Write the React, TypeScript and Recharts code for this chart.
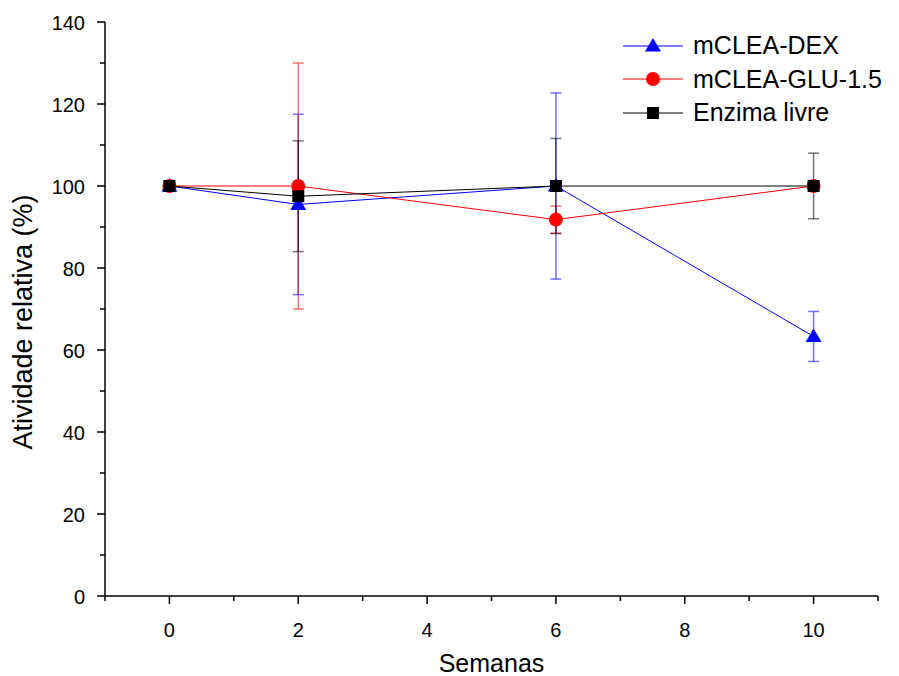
import { LineChart, Line, XAxis, YAxis, ErrorBar } from "recharts";

// semanas de armazenamento
const semanas = [0, 2, 6, 10];

// atividade relativa (%) e desvio
const dex = [100, 95.5, 100, 63.3];
const dexErro = [1, 22, 22.7, 6.1];
const glu = [100, 100, 91.8, 100];
const gluErro = [0.5, 30, 3.3, 0.8];
const livre = [100, 97.5, 100, 100];
const livreErro = [0.5, 13.5, 11.6, 8];

const xTicks = [-1, 0, 1, 2, 3, 4, 5, 6, 7, 8, 9, 10, 11];
const yTicks = [0, 10, 20, 30, 40, 50, 60, 70, 80, 90, 100, 110, 120, 130, 140];

const data = semanas.map((s, i) => ({
  semana: s,
  dex: dex[i],
  dexErro: dexErro[i],
  glu: glu[i],
  gluErro: gluErro[i],
  livre: livre[i],
  livreErro: livreErro[i],
}));

const FONT = '"Liberation Sans", Arial, sans-serif';

const Triangle = ({ cx, cy, fill }: any) => (
  <path d={`M${cx},${cy - 8} L${cx + 8},${cy + 5.5} L${cx - 8},${cy + 5.5} Z`} fill={fill} />
);
const Circle = ({ cx, cy, fill }: any) => <circle cx={cx} cy={cy} r={7} fill={fill} />;
const Square = ({ cx, cy, fill }: any) => (
  <rect x={cx - 6} y={cy - 6} width={12} height={12} fill={fill} />
);

const series = [
  { key: "dex", name: "mCLEA-DEX", color: "#0000ff", Marker: Triangle },
  { key: "glu", name: "mCLEA-GLU-1.5", color: "#ff0000", Marker: Circle },
  { key: "livre", name: "Enzima livre", color: "#000000", Marker: Square },
];

const XTick = (props: any) => {
  const { x, y, payload } = props;
  const major = payload.value % 2 === 0;
  return (
    <g>
      <line x1={x} y1={y} x2={x} y2={y + (major ? 8 : 5)} stroke="#000" strokeWidth={1.5} />
      {major && (
        <text x={x} y={y + 41} textAnchor="middle" fontSize={20} fill="#000" fontFamily={FONT}>
          {payload.value}
        </text>
      )}
    </g>
  );
};

const YTick = (props: any) => {
  const { x, y, payload } = props;
  const major = payload.value % 20 === 0;
  return (
    <g>
      <line x1={x} y1={y} x2={x - (major ? 8 : 5)} y2={y} stroke="#000" strokeWidth={1.5} />
      {major && (
        <text x={x - 20} y={y + 7.5} textAnchor="end" fontSize={20} fill="#000" fontFamily={FONT}>
          {payload.value}
        </text>
      )}
    </g>
  );
};

const XLabel = ({ viewBox }: any) => {
  const vb = viewBox || { x: 97, y: 588, width: 773, height: 80 };
  return (
    <text x={vb.x + vb.width / 2} y={vb.y + 76} textAnchor="middle" fontSize={25} fill="#000" fontFamily={FONT}>
      Semanas
    </text>
  );
};

const YLabel = ({ viewBox }: any) => {
  const vb = viewBox || { x: 0, y: 14, width: 97, height: 574 };
  const cx = vb.x + 24;
  const cy = vb.y + vb.height / 2 + 13;
  return (
    <text
      x={cx}
      y={cy}
      transform={`rotate(-90, ${cx}, ${cy})`}
      textAnchor="middle"
      fontSize={27}
      fill="#000"
      fontFamily={FONT}
    >
      Atividade relativa (%)
    </text>
  );
};

const Legenda = () => (
  <div style={{ position: "absolute", left: 615, top: 21, fontFamily: FONT }}>
    {series.map((s) => (
      <div key={s.key} style={{ display: "flex", alignItems: "center", height: 33.5 }}>
        <svg width={60} height={20}>
          <line x1={0} y1={10} x2={60} y2={10} stroke={s.color} strokeWidth={1} />
          <s.Marker cx={30} cy={10} fill={s.color} />
        </svg>
        <span style={{ marginLeft: 10, fontSize: 25, color: "#000", lineHeight: 1 }}>{s.name}</span>
      </div>
    ))}
  </div>
);

export default function App() {
  return (
    <div style={{ position: "relative", width: 891, height: 668, fontFamily: FONT }}>
      <LineChart width={891} height={668} data={data} margin={{ top: 14, right: 21, left: 0, bottom: 0 }}>
        <XAxis
          dataKey="semana"
          type="number"
          domain={[-1, 11]}
          ticks={xTicks}
          interval={0}
          height={80}
          tickSize={0}
          tickMargin={0}
          tickLine={false}
          tick={<XTick />}
          axisLine={{ stroke: "#000", strokeWidth: 1.5 }}
          label={<XLabel />}
        />
        <YAxis
          type="number"
          domain={[0, 140]}
          ticks={yTicks}
          interval={0}
          width={97}
          tickSize={0}
          tickMargin={0}
          tickLine={false}
          tick={<YTick />}
          axisLine={{ stroke: "#000", strokeWidth: 1.5 }}
          label={<YLabel />}
        />
        {series.map((s) => (
          <Line
            key={s.key}
            dataKey={s.key}
            name={s.name}
            stroke={s.color}
            strokeWidth={1}
            isAnimationActive={false}
            dot={(p: any) => <s.Marker key={`${s.key}-${p.index}`} cx={p.cx} cy={p.cy} fill={s.color} />}
            activeDot={false}
          >
            <ErrorBar
              dataKey={`${s.key}Erro`}
              width={5.5}
              stroke={s.color}
              strokeOpacity={0.55}
              strokeWidth={1.5}
              direction="y"
              isAnimationActive={false}
            />
          </Line>
        ))}
      </LineChart>
      <Legenda />
    </div>
  );
}
